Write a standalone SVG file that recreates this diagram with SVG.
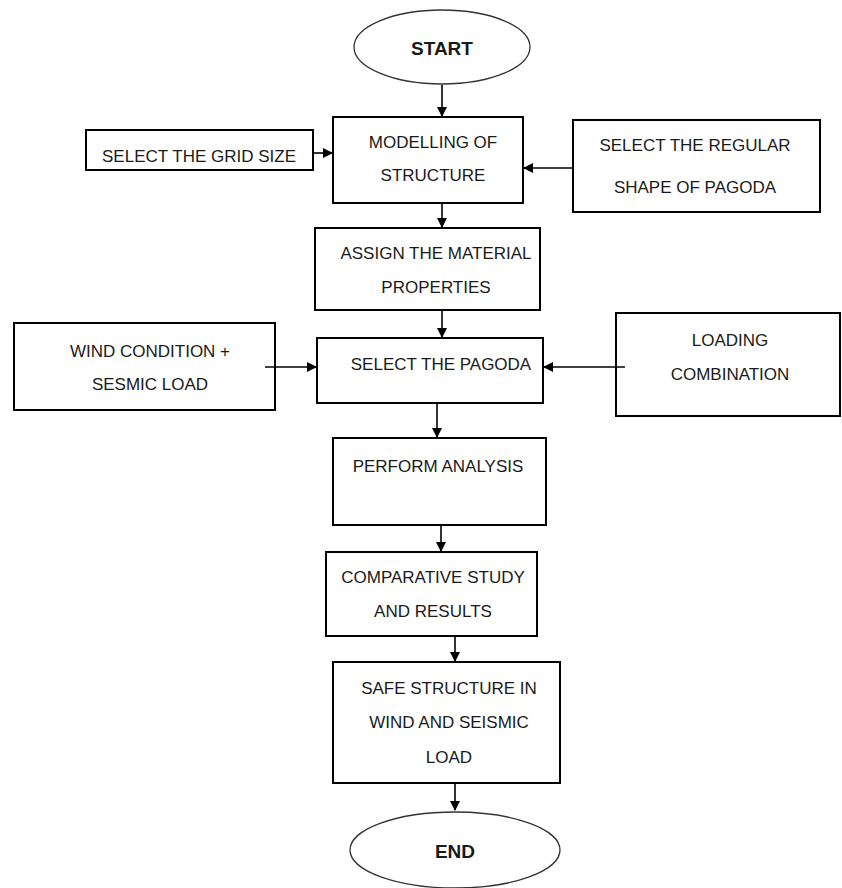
<svg xmlns="http://www.w3.org/2000/svg" width="842" height="888" viewBox="0 0 842 888">
<defs>
<style>
.b{fill:#fff;stroke:#000;stroke-width:2}
.e{fill:#fff;stroke:#333;stroke-width:1.3}
.t{font-family:"Liberation Sans",Arial,sans-serif;font-size:17px;fill:#1a1a1a;text-anchor:middle}
.tb{font-weight:bold;font-size:19px}
.c{stroke:#000;stroke-width:1.6;fill:none;marker-end:url(#ah)}
</style>
<marker id="ah" markerWidth="10" markerHeight="10" refX="9" refY="5" orient="auto" markerUnits="userSpaceOnUse">
<path d="M0,0 L10,5 L0,10 Z" fill="#000"/>
</marker>
</defs>
<rect width="842" height="888" fill="#fff"/>
<g id="start"><ellipse class="e" cx="442" cy="47" rx="88" ry="37"/><text class="t tb" x="442" y="55">START</text></g>
<g id="modelling"><rect class="b" x="333" y="117" width="190" height="86"/><text class="t" x="433" y="148">MODELLING OF</text><text class="t" x="433" y="181">STRUCTURE</text></g>
<g id="grid"><rect class="b" x="86" y="130" width="227" height="40"/><text class="t" x="199" y="162">SELECT THE GRID SIZE</text></g>
<g id="shape"><rect class="b" x="573" y="120" width="247" height="92"/><text class="t" x="695" y="151">SELECT THE REGULAR</text><text class="t" x="695" y="193">SHAPE OF PAGODA</text></g>
<g id="assign"><rect class="b" x="315" y="228" width="225" height="82"/><text class="t" x="436" y="259">ASSIGN THE MATERIAL</text><text class="t" x="436" y="293">PROPERTIES</text></g>
<g id="pagoda"><rect class="b" x="317" y="338" width="226" height="65"/><text class="t" x="441" y="370">SELECT THE PAGODA</text></g>
<g id="wind"><rect class="b" x="14" y="323" width="261" height="87"/><text class="t" x="150" y="357">WIND CONDITION +</text><text class="t" x="150" y="390">SESMIC LOAD</text></g>
<g id="loading"><rect class="b" x="616" y="313" width="224" height="103"/><text class="t" x="730" y="346">LOADING</text><text class="t" x="730" y="380">COMBINATION</text></g>
<g id="perform"><rect class="b" x="333" y="438" width="213" height="87"/><text class="t" x="438" y="472">PERFORM ANALYSIS</text></g>
<g id="compare"><rect class="b" x="326" y="552" width="211" height="84"/><text class="t" x="433" y="583">COMPARATIVE STUDY</text><text class="t" x="433" y="617">AND RESULTS</text></g>
<g id="safe"><rect class="b" x="333" y="662" width="227" height="121"/><text class="t" x="449" y="694">SAFE STRUCTURE IN</text><text class="t" x="449" y="728">WIND AND SEISMIC</text><text class="t" x="449" y="763">LOAD</text></g>
<g id="end"><ellipse class="e" cx="455" cy="850" rx="105" ry="38"/><text class="t tb" x="455" y="858">END</text></g>
<g id="connectors">
<line class="c" x1="442" y1="85" x2="442" y2="116"/>
<line class="c" x1="313" y1="153" x2="332" y2="153"/>
<line class="c" x1="573" y1="168" x2="524" y2="168"/>
<line class="c" x1="442" y1="203" x2="442" y2="227"/>
<line class="c" x1="442" y1="310" x2="442" y2="337"/>
<line class="c" x1="265" y1="367" x2="316" y2="367"/>
<line class="c" x1="625" y1="367" x2="544" y2="367"/>
<line class="c" x1="437" y1="403" x2="437" y2="437"/>
<line class="c" x1="441" y1="525" x2="441" y2="551"/>
<line class="c" x1="455" y1="636" x2="455" y2="661"/>
<line class="c" x1="455" y1="783" x2="455" y2="810"/>
</g>
</svg>
